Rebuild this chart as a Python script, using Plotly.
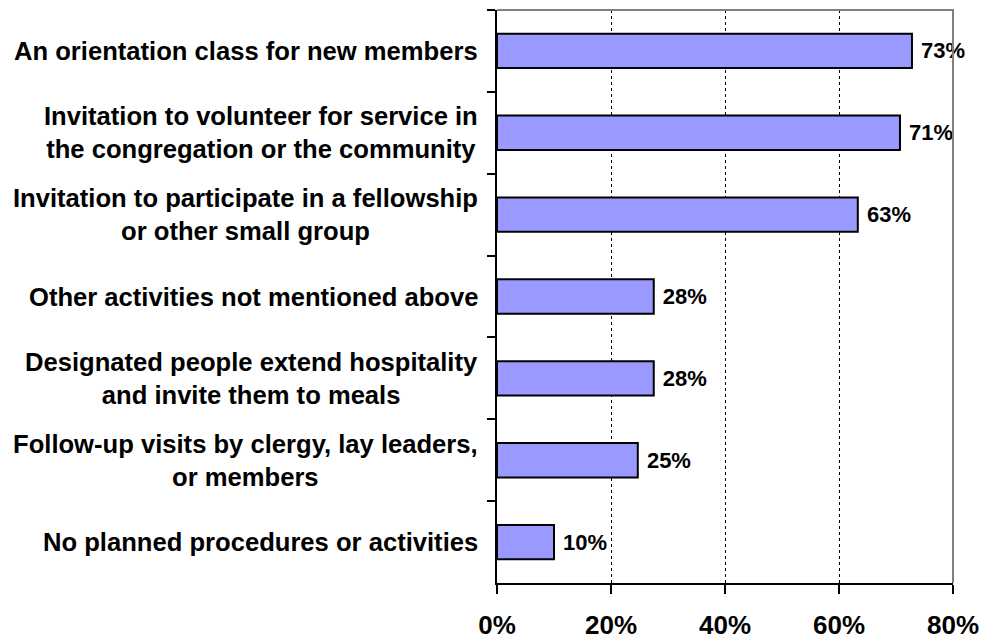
import plotly.graph_objects as go

categories = [
    "An orientation class for new members",
    "Invitation to volunteer for service in<br>the congregation or the community",
    "Invitation to participate in a fellowship<br>or other small group",
    "Other activities not mentioned above",
    "Designated people extend hospitality<br>and invite them to meals",
    "Follow-up visits by clergy, lay leaders,<br>or members",
    "No planned procedures or activities",
]
values = [72.8, 70.7, 63.3, 27.5, 27.5, 24.7, 10.0]
x_ticks = [0, 20, 40, 60, 80]
x_tick_labels = ["0%", "20%", "40%", "60%", "80%"]

FONT = "Arial, Liberation Sans, sans-serif"

fig = go.Figure(
    go.Bar(
        x=values,
        y=categories,
        orientation="h",
        marker=dict(color="#9999FF", line=dict(color="black", width=2)),
        texttemplate="\u00a0%{x:.0f}%",
        textposition="outside",
        textfont=dict(family=FONT, size=22, color="black", weight="bold"),
        cliponaxis=False,
        hoverinfo="skip",
    )
)

annotations = []
for c in categories:
    annotations.append(
        dict(
            x=0, xref="paper", y=c, yref="y",
            xanchor="right", yanchor="middle", xshift=-17,
            text=c, showarrow=False, align="center",
            font=dict(family=FONT, size=25.6, color="black", weight="bold"),
        )
    )

fig.update_layout(
    width=982, height=639,
    margin=dict(l=497, r=29, t=10, b=56),
    paper_bgcolor="white", plot_bgcolor="white",
    showlegend=False,
    bargap=0.58,
    annotations=annotations,
    shapes=[
        dict(type="path", xref="paper", yref="paper",
             path="M 0 1 L 1 1 L 1 0", line=dict(color="#808080", width=2)),
    ],
    xaxis=dict(
        range=[0, 80], tickvals=x_ticks, ticktext=x_tick_labels,
        showgrid=True, gridcolor="black", griddash="dot", gridwidth=1,
        showline=True, linecolor="black", linewidth=2,
        ticks="outside", ticklen=9, tickwidth=2, tickcolor="black",
        ticklabelstandoff=9,
        tickfont=dict(family=FONT, size=26, color="black", weight="bold"),
        zeroline=False, fixedrange=True, automargin=False,
    ),
    yaxis=dict(
        categoryorder="array", categoryarray=categories,
        autorange="reversed",
        showticklabels=False, showgrid=False,
        showline=True, linecolor="black", linewidth=2,
        ticks="outside", tickson="boundaries", ticklen=8, tickwidth=2, tickcolor="black",
        zeroline=False, fixedrange=True, automargin=False,
    ),
)

fig.write_html(
    "out.html",
    config={"displayModeBar": False},
    post_script="document.documentElement.style.margin='0';document.body.style.margin='0';document.body.style.overflow='hidden';",
)
